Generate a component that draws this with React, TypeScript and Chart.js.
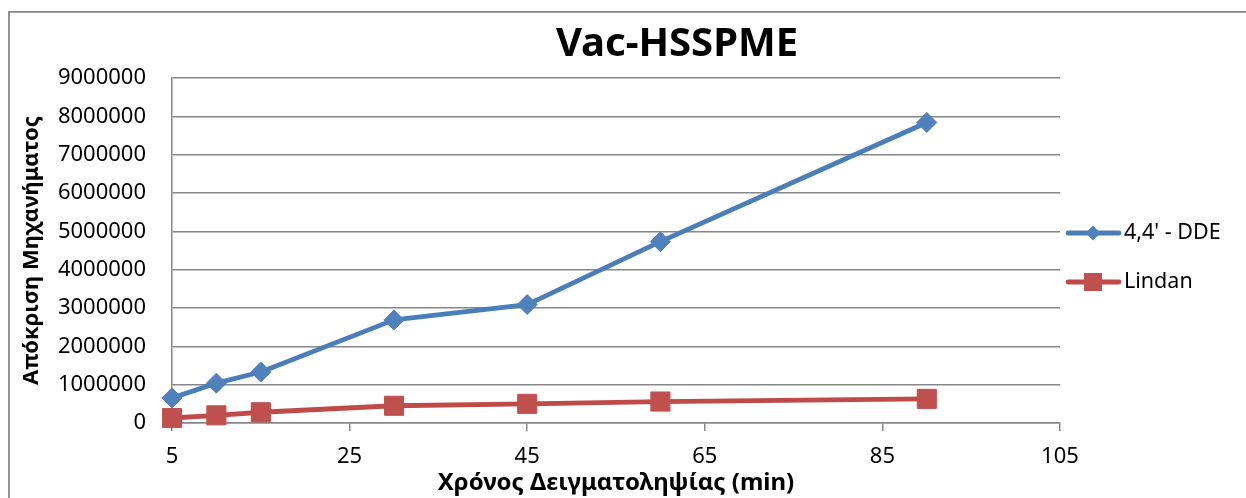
import React, { useEffect, useRef } from "react";
import { Chart, registerables } from "chart.js";

Chart.register(...registerables);

const chartTitle = "Vac-HSSPME";
const xAxisTitle = "Χρόνος Δειγματοληψίας (min)";
const yAxisTitle = "Απόκριση Μηχανήματος";
const seriesNames = ["4,4' - DDE", "Lindan"];
const times = [5, 10, 15, 30, 45, 60, 90];
const ddeValues = [650000, 1040000, 1330000, 2690000, 3090000, 4730000, 7840000];
const lindanValues = [130000, 200000, 280000, 450000, 500000, 560000, 630000];

const FONT = "'Noto Sans', 'DejaVu Sans', sans-serif";
const GRID = "#878787";
const BLUE_LINE = "#4A7EBB";
const BLUE = "#4F81BD";
const RED_LINE = "#BE4B48";
const RED = "#C0504D";
const LINE_W = 4.8;

const framePlugin = {
  id: "frameAndTitle",
  beforeDraw(chart: any) {
    const ctx = chart.ctx;
    ctx.save();
    ctx.fillStyle = "#ffffff";
    ctx.fillRect(0, 0, chart.width, chart.height);
    ctx.strokeStyle = GRID;
    ctx.lineWidth = 1.8;
    ctx.beginPath();
    ctx.moveTo(9, chart.height + 2);
    ctx.lineTo(9, 11.8);
    ctx.lineTo(chart.width + 2, 11.8);
    ctx.stroke();
    ctx.restore();
  },
  afterDraw(chart: any) {
    const ctx = chart.ctx;
    ctx.save();
    ctx.fillStyle = "#000000";
    ctx.font = `bold 40px ${FONT}`;
    ctx.textAlign = "center";
    ctx.textBaseline = "alphabetic";
    ctx.fillText(chartTitle, 677, 56);

    // legend
    const items = [
      { name: seriesNames[0], line: BLUE_LINE, fill: BLUE, shape: "diamond", y: 233 },
      { name: seriesNames[1], line: RED_LINE, fill: RED, shape: "square", y: 282 },
    ];
    for (const it of items) {
      ctx.strokeStyle = it.line;
      ctx.lineWidth = LINE_W;
      ctx.lineCap = "round";
      ctx.beginPath();
      ctx.moveTo(1068, it.y);
      ctx.lineTo(1119, it.y);
      ctx.stroke();
      ctx.fillStyle = it.fill;
      ctx.beginPath();
      if (it.shape === "diamond") {
        const r = 7.5;
        ctx.moveTo(1093 - r, it.y);
        ctx.lineTo(1093, it.y - r);
        ctx.lineTo(1093 + r, it.y);
        ctx.lineTo(1093, it.y + r);
        ctx.closePath();
      } else {
        ctx.rect(1093 - 9, it.y - 9, 18, 18);
      }
      ctx.fill();
      ctx.fillStyle = "#000000";
      ctx.font = `21.5px ${FONT}`;
      ctx.textAlign = "left";
      ctx.textBaseline = "middle";
      ctx.fillText(it.name, 1124, it.y);
    }
    ctx.restore();
  },
};

export default function App() {
  const ref = useRef<HTMLCanvasElement | null>(null);

  useEffect(() => {
    if (!ref.current) return;
    const chart = new Chart(ref.current, {
      type: "line",
      data: {
        datasets: [
          {
            label: seriesNames[0],
            data: times.map((t, i) => ({ x: t, y: ddeValues[i] })),
            borderColor: BLUE_LINE,
            backgroundColor: BLUE,
            borderWidth: LINE_W,
            borderJoinStyle: "round",
            borderCapStyle: "round",
            pointStyle: "rectRot",
            pointRadius: 10,
            pointBackgroundColor: BLUE,
            pointBorderColor: BLUE,
            pointBorderWidth: 1,
            tension: 0,
            clip: false,
          } as any,
          {
            label: seriesNames[1],
            data: times.map((t, i) => ({ x: t, y: lindanValues[i] })),
            borderColor: RED_LINE,
            backgroundColor: RED,
            borderWidth: LINE_W,
            borderJoinStyle: "round",
            borderCapStyle: "round",
            pointStyle: "rect",
            pointRadius: 13.5,
            pointBackgroundColor: RED,
            pointBorderColor: RED,
            pointBorderWidth: 1,
            tension: 0,
            clip: false,
          } as any,
        ],
      },
      options: {
        responsive: false,
        animation: false,
        events: [],
        layout: { padding: { left: 0, right: 186, top: 78, bottom: 0 } },
        plugins: {
          legend: { display: false },
          title: { display: false },
          tooltip: { enabled: false },
        },
        scales: {
          x: {
            type: "linear",
            min: 5,
            max: 105,
            afterFit: (s: any) => {
              s.height = 75;
            },
            ticks: {
              stepSize: 20,
              padding: 13,
              color: "#000",
              font: { family: FONT, size: 22 },
              maxRotation: 0,
            },
            grid: {
              drawOnChartArea: false,
              drawTicks: true,
              tickLength: 8,
              color: GRID,
              lineWidth: 1.5,
            },
            border: { display: true, color: GRID, width: 1.5 },
            title: {
              display: true,
              text: xAxisTitle,
              color: "#000",
              font: { family: FONT, size: 24, weight: "bold" },
              padding: { top: 0, bottom: 0 },
            },
          },
          y: {
            type: "linear",
            min: 0,
            max: 9000000,
            afterFit: (s: any) => {
              s.width = 172;
            },
            ticks: {
              stepSize: 1000000,
              padding: 26,
              color: "#000",
              font: { family: FONT, size: 22 },
              callback: (v: any) => String(v),
            },
            grid: {
              drawTicks: false,
              color: GRID,
              lineWidth: 1.5,
            },
            border: { display: true, color: GRID, width: 1.5 },
            title: {
              display: true,
              text: yAxisTitle,
              color: "#000",
              font: { family: FONT, size: 22, weight: "bold" },
              padding: { top: 19, bottom: 0 },
            },
          },
        },
      } as any,
      plugins: [framePlugin],
    });
    return () => chart.destroy();
  }, []);

  return (
    <div style={{ position: "fixed", left: 0, top: 0, width: 1246, height: 498, background: "#fff" }}>
      <canvas ref={ref} width={1246} height={498} style={{ display: "block" }} />
    </div>
  );
}
